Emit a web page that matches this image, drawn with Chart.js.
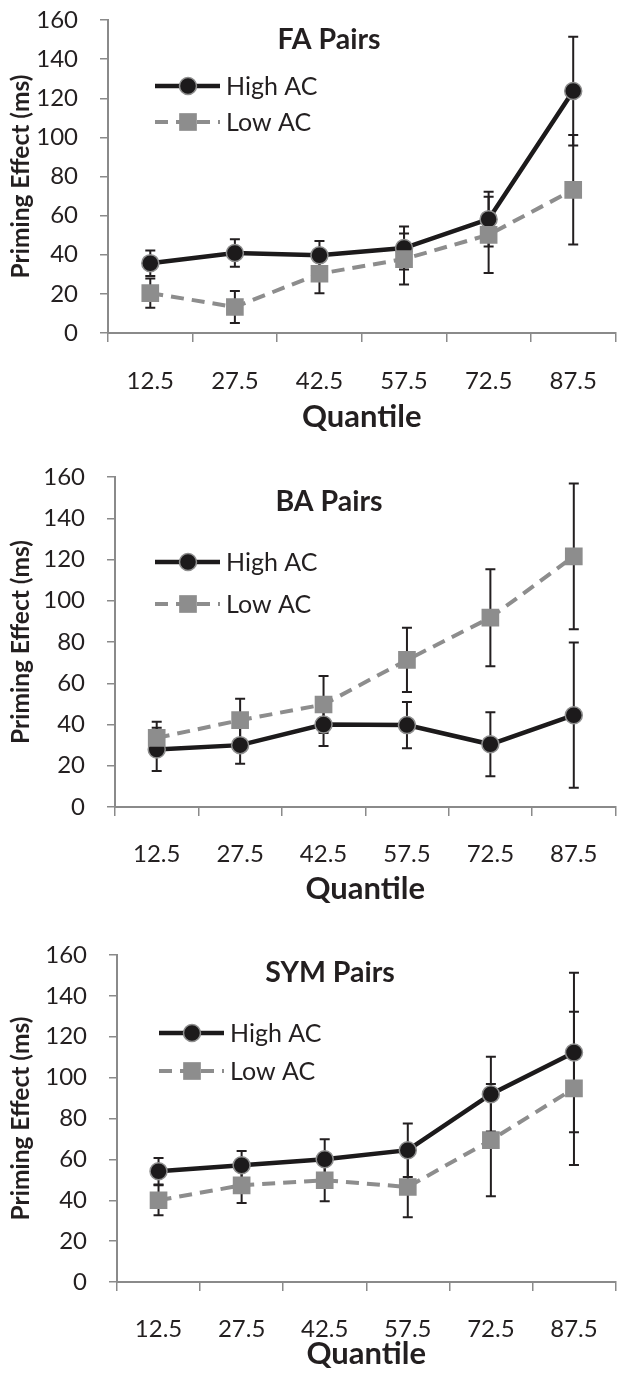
<!DOCTYPE html>
<html lang="en">
<head>
    <meta charset="UTF-8">
    <title>Priming Effect by Quantile</title>
    <script src="https://cdn.jsdelivr.net/npm/chart.js"></script>
    <style>
        body {
            margin: 0;
            padding: 0;
            background-color: #ffffff;
            overflow: hidden;
        }

        .page {
            position: relative;
            width: 628px;
            height: 1373px;
        }

        .panel {
            position: absolute;
            left: 0;
            width: 628px;
        }
    </style>
</head>
<body>
    <div class="page">
        <div class="panel" id="p1" style="top: 0px; height: 440px;"><canvas id="faChart"></canvas></div>
        <div class="panel" id="p2" style="top: 450px; height: 460px;"><canvas id="baChart"></canvas></div>
        <div class="panel" id="p3" style="top: 920px; height: 453px;"><canvas id="symChart"></canvas></div>
    </div>

    <script>
        const quantiles = ['12.5', '27.5', '42.5', '57.5', '72.5', '87.5'];
        const yTicks = [0, 20, 40, 60, 80, 100, 120, 140, 160];
        const seriesNames = ['High AC', 'Low AC'];

        // FA pairs
        const faHigh = [35.7, 40.9, 39.7, 43.4, 58.2, 123.7];
        const faHighErr = [6.5, 7, 7.3, 11, 14, 27.8];
        const faLow = [20.4, 13.3, 30.3, 37.8, 50.2, 73.2];
        const faLowErr = [7.5, 8.2, 10, 13, 19.5, 28];

        // BA pairs
        const baHigh = [27.9, 30, 40, 39.7, 30.4, 44.5];
        const baHighErr = [10.5, 9, 10.4, 11.2, 15.5, 35.2];
        const baLow = [33.5, 42.1, 49.7, 71.3, 91.8, 121.5];
        const baLowErr = [7.8, 10.4, 13.8, 15.6, 23.5, 35.3];

        // SYM pairs
        const symHigh = [54.2, 57.1, 60.1, 64.5, 91.9, 112.3];
        const symHighErr = [6.5, 7, 9.8, 13.1, 18.3, 39];
        const symLow = [40, 47.3, 49.8, 46.5, 69.4, 94.7];
        const symLowErr = [7.3, 8.6, 10.3, 14.8, 27.5, 37.5];

        const FONT = 'Lato, "Open Sans", sans-serif';
        const TEXT = '#231f20';
        const AXIS = '#8a8a8a';
        const HIGH = '#1c1a1b';
        const LOW = '#8d8d8d';

        // draws the +/- error bars behind the markers
        const errorBars = {
            id: 'errorBars',
            beforeDatasetsDraw(chart) {
                const ctx = chart.ctx;
                const y = chart.scales.y;
                ctx.save();
                ctx.strokeStyle = TEXT;
                ctx.lineWidth = 2;
                chart.data.datasets.forEach((ds, i) => {
                    const meta = chart.getDatasetMeta(i);
                    meta.data.forEach((pt, j) => {
                        const v = ds.data[j];
                        const e = ds.errors[j];
                        const top = y.getPixelForValue(v + e);
                        const bot = y.getPixelForValue(v - e);
                        ctx.beginPath();
                        ctx.moveTo(pt.x, top);
                        ctx.lineTo(pt.x, bot);
                        ctx.moveTo(pt.x - 5, top);
                        ctx.lineTo(pt.x + 5, top);
                        ctx.moveTo(pt.x - 5, bot);
                        ctx.lineTo(pt.x + 5, bot);
                        ctx.stroke();
                    });
                });
                ctx.restore();
            }
        };

        // panel title and the line+marker legend
        const panelDecor = {
            id: 'panelDecor',
            afterDraw(chart, args, opts) {
                const ctx = chart.ctx;
                ctx.save();
                ctx.fillStyle = TEXT;
                ctx.font = 'bold 28.5px ' + FONT;
                ctx.textAlign = 'center';
                ctx.textBaseline = 'middle';
                ctx.fillText(opts.title, opts.titleX, opts.titleY);

                const lx = opts.legendX;
                opts.legendY.forEach((ly, i) => {
                    const ds = chart.data.datasets[i];
                    ctx.save();
                    ctx.strokeStyle = ds.borderColor;
                    ctx.lineWidth = ds.borderWidth;
                    ctx.setLineDash(ds.borderDash || []);
                    ctx.beginPath();
                    ctx.moveTo(lx, ly);
                    ctx.lineTo(lx + 65, ly);
                    ctx.stroke();
                    ctx.restore();
                    ctx.fillStyle = ds.pointBackgroundColor;
                    ctx.strokeStyle = ds.pointBorderColor;
                    ctx.lineWidth = ds.pointBorderWidth;
                    ctx.beginPath();
                    if (ds.pointStyle === 'circle') {
                        ctx.arc(lx + 33, ly, ds.pointRadius, 0, Math.PI * 2);
                    } else {
                        const s = ds.pointRadius * Math.SQRT1_2;
                        ctx.rect(lx + 33 - s, ly - s, 2 * s, 2 * s);
                    }
                    ctx.fill();
                    if (ds.pointBorderWidth) ctx.stroke();
                    ctx.fillStyle = TEXT;
                    ctx.font = '25px ' + FONT;
                    ctx.textAlign = 'left';
                    ctx.fillText(seriesNames[i], lx + 71, ly + 1);
                });
                ctx.restore();
            }
        };

        function makeChart(id, high, highErr, low, lowErr, lay) {
            const ctx = document.getElementById(id).getContext('2d');
            return new Chart(ctx, {
                type: 'line',
                data: {
                    labels: quantiles,
                    datasets: [{
                        label: seriesNames[0],
                        data: high,
                        errors: highErr,
                        borderColor: HIGH,
                        borderWidth: 4.5,
                        pointStyle: 'circle',
                        pointRadius: 8.5,
                        pointBackgroundColor: HIGH,
                        pointBorderColor: '#8f8f8f',
                        pointBorderWidth: 1.5,
                        tension: 0,
                        order: 1
                    }, {
                        label: seriesNames[1],
                        data: low,
                        errors: lowErr,
                        borderColor: LOW,
                        borderWidth: 4,
                        borderDash: [13, 8],
                        pointStyle: 'rect',
                        pointRadius: 12.5,
                        pointBackgroundColor: LOW,
                        pointBorderColor: LOW,
                        pointBorderWidth: 0,
                        tension: 0,
                        order: 0
                    }]
                },
                options: {
                    responsive: true,
                    maintainAspectRatio: false,
                    animation: false,
                    events: [],
                    layout: {
                        padding: { left: 0, right: 628 - lay.right, top: lay.top, bottom: 0 }
                    },
                    plugins: {
                        legend: { display: false },
                        tooltip: { enabled: false },
                        panelDecor: lay.decor
                    },
                    scales: {
                        x: {
                            type: 'category',
                            offset: true,
                            afterFit: (s) => {
                                s.height = lay.xHeight;
                                s.paddingLeft = 0;
                                s.paddingRight = 0;
                            },
                            grid: {
                                offset: true,
                                drawOnChartArea: false,
                                tickLength: 9,
                                color: AXIS,
                                lineWidth: 1.5
                            },
                            border: { color: AXIS, width: 2 },
                            ticks: {
                                color: TEXT,
                                padding: lay.xTickPad,
                                maxRotation: 0,
                                font: { family: FONT, size: 24 }
                            },
                            title: {
                                display: true,
                                text: 'Quantile',
                                color: TEXT,
                                padding: { top: 0, bottom: lay.xTitlePad },
                                font: { family: FONT, size: 31, weight: 'bold' }
                            }
                        },
                        y: {
                            min: 0,
                            max: 160,
                            afterFit: (s) => {
                                s.width = lay.left;
                                s.paddingTop = 0;
                                s.paddingBottom = 0;
                            },
                            afterBuildTicks: (s) => { s.ticks = yTicks.map(v => ({ value: v })); },
                            grid: {
                                drawOnChartArea: false,
                                tickLength: 8,
                                color: AXIS,
                                lineWidth: 1.5
                            },
                            border: { color: AXIS, width: 2 },
                            ticks: {
                                color: TEXT,
                                padding: 22,
                                font: { family: FONT, size: 24 }
                            },
                            title: {
                                display: true,
                                text: 'Priming Effect (ms)',
                                color: TEXT,
                                padding: { top: 6, bottom: 0 },
                                font: { family: FONT, size: 24.5, weight: 'bold' }
                            }
                        }
                    }
                },
                plugins: [errorBars, panelDecor]
            });
        }

        makeChart('faChart', faHigh, faHighErr, faLow, faLowErr, {
            left: 108, right: 624, top: 20, xHeight: 107, xTickPad: 25, xTitlePad: 4,
            decor: { title: 'FA Pairs', titleX: 329, titleY: 40, legendX: 155, legendY: [86, 122] }
        });

        makeChart('baChart', baHigh, baHighErr, baLow, baLowErr, {
            left: 115, right: 627, top: 27, xHeight: 103, xTickPad: 24, xTitlePad: 2,
            decor: { title: 'BA Pairs', titleX: 329, titleY: 52, legendX: 155, legendY: [112, 154] }
        });

        makeChart('symChart', symHigh, symHighErr, symLow, symLowErr, {
            left: 117, right: 616, top: 35, xHeight: 91, xTickPad: 24, xTitlePad: 0,
            decor: { title: 'SYM Pairs', titleX: 330, titleY: 53, legendX: 159, legendY: [113, 151] }
        });
    </script>
</body>
</html>
